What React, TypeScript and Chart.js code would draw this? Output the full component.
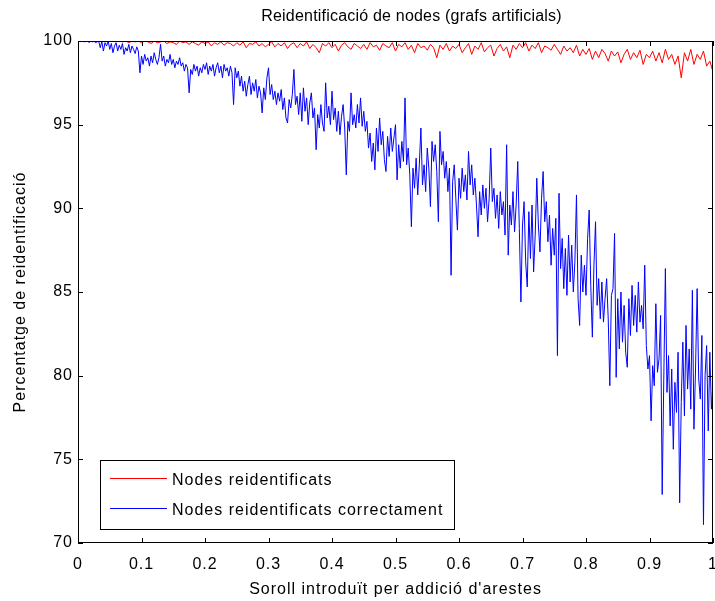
import React, { useEffect, useRef } from "react";
import { Chart, registerables } from "chart.js";

Chart.register(...registerables);

const titleText = "Reidentificació de nodes (grafs artificials)";
const xTitle = "Soroll introduït per addició d'arestes";
const yTitle = "Percentatge de reidentificació";
const seriesNames = ["Nodes reidentificats", "Nodes reidentificats correctament"];
const seriesColors = ["#ff0000", "#0000ff"];

const xTickLabels = ["0", "0.1", "0.2", "0.3", "0.4", "0.5", "0.6", "0.7", "0.8", "0.9", "1"];
const yTickLabels = ["70", "75", "80", "85", "90", "95", "100"];

// noise levels: red series sampled every 0.005, blue every 0.0025 (0 → 1)
const noiseLevelsRed: number[] = Array.from({ length: 201 }, (_, i) => i / 200);
const noiseLevelsBlue: number[] = Array.from({ length: 401 }, (_, i) => i / 400);

const reidentified: number[] = [
  100, 100, 100, 100, 100, 100, 100, 100, 100, 100,
  100, 100, 100, 100, 99.95, 100, 99.9, 100, 99.95, 100,
  99.9, 100, 99.95, 99.85, 100, 99.9, 99.95, 100, 99.85, 99.95,
  99.9, 99.8, 100, 99.9, 99.95, 99.8, 99.95, 99.85, 99.75, 99.95,
  99.85, 99.95, 99.7, 99.9, 99.8, 99.95, 99.75, 99.9, 99.85, 99.7,
  99.9, 99.75, 99.95, 99.6, 99.85, 99.8, 99.95, 99.7, 99.85, 99.65,
  99.8, 99.95, 99.65, 99.85, 99.7, 99.9, 99.55, 99.8, 99.9, 99.6,
  99.85, 99.7, 99.95, 99.55, 99.8, 99.6, 99.3, 99.85, 99.7, 99.9,
  99.6, 99.8, 99.4, 99.75, 99.9, 99.65, 99.5, 99.85, 99.7, 99.55,
  99.8, 99.5, 99.9, 99.65, 99.75, 99.45, 99.85, 99.7, 99.6, 99.9,
  99.4, 99.8, 99.65, 99.9, 99.5, 99.75, 99.3, 99.85, 99.6, 99.7,
  99.45, 99.8, 99.6, 99.0, 99.75, 99.5, 99.85, 99.4, 99.7, 99.55,
  99.8, 99.3, 99.6, 99.85, 99.2, 99.7, 99.5, 99.9, 99.35, 99.6,
  99.75, 99.1, 99.55, 99.8, 99.4, 99.65, 99.0, 99.75, 99.5, 99.85,
  99.6, 99.9, 99.4, 99.75, 99.55, 99.9, 99.3, 99.7, 99.6, 99.45,
  99.8, 99.5, 99.2, 99.7, 99.4, 99.6, 99.3, 99.75, 99.1, 99.5,
  99.2, 99.55, 98.9, 99.4, 99.0, 99.5, 99.25, 98.8, 99.4, 99.1,
  99.35, 98.7, 99.2, 99.5, 98.9, 99.3, 99.0, 99.45, 98.6, 99.2,
  99.0, 99.4, 98.8, 99.3, 98.7, 99.5, 98.9, 99.2, 98.6, 99.1,
  97.8, 99.3, 98.8, 99.5, 98.6, 99.2, 98.9, 99.4, 98.5, 98.8,
  98.15,
];

const reidentifiedCorrectly: number[] = [
  100, 100, 100, 100, 99.95, 100, 100, 99.9, 100, 99.95, 100, 99.9, 99.95, 100, 99.6, 99.95, 99.4, 99.9, 99.7, 100,
  99.5, 99.85, 99.3, 99.7, 99.9, 99.4, 99.75, 99.5, 99.85, 99.2, 99.6, 99.4, 99.8, 99.3, 99.7, 99.5, 99.25, 99.65, 99.4, 98.1,
  99.1, 98.6, 99.2, 98.8, 99.0, 98.5, 99.1, 98.7, 99.3, 98.9, 98.6, 99.0, 99.8, 98.8, 99.1, 98.5, 98.9, 98.7, 99.2, 98.6,
  98.9, 98.4, 98.8, 98.6, 99.0, 98.5, 98.7, 98.2, 98.6, 98.4, 96.9, 98.3, 98.0, 98.6, 98.2, 98.5, 97.9, 98.4, 98.1, 98.6,
  98.3, 98.7, 98.0, 98.5, 98.2, 98.6, 97.9, 98.4, 98.7, 98.1, 98.5, 97.8, 98.6, 98.2, 98.4, 97.9, 98.5, 98.1, 96.2, 98.4,
  97.8, 98.2, 97.3, 97.9, 97.0, 97.6, 96.7, 97.4, 97.9, 96.8, 97.5, 97.0, 97.7, 96.6, 97.3, 96.9, 95.7, 97.2, 96.5, 97.8,
  98.4, 96.8, 97.4, 96.5, 97.0, 96.2, 96.9, 96.4, 97.1, 95.9, 96.6, 95.4, 95.1, 96.5, 96.0, 96.8, 98.3, 96.2, 96.7, 95.6,
  96.9, 95.2, 97.2, 95.8, 96.6, 95.0, 96.3, 96.9, 95.4, 96.0, 93.5, 95.6, 94.8, 96.2, 95.1, 94.6, 97.5, 95.4, 96.1, 95.0,
  97.0, 95.3, 96.0, 94.6, 95.8, 94.4, 95.5, 96.2, 94.8, 92.0, 95.2, 94.6, 96.9, 95.0, 95.6, 94.8, 96.2, 95.1, 96.6, 94.9,
  95.8, 94.6, 95.2, 93.6, 94.5, 92.8, 93.9, 92.3, 94.8, 93.4, 95.4, 93.8, 94.6, 92.9, 92.2, 94.3, 93.1, 94.8, 93.4, 94.2,
  95.0, 91.7, 93.8, 92.4, 94.0, 92.8, 96.6, 92.6, 93.6, 92.0, 88.9, 92.4, 91.2, 93.0, 90.8, 92.6, 94.8, 91.4, 92.6, 91.0,
  93.6, 92.4, 90.1, 94.0, 92.8, 93.8, 92.2, 89.2, 94.6, 92.6, 93.4, 91.8, 92.8, 91.0, 92.4, 86.0, 91.6, 92.6, 90.6, 88.7,
  91.8, 90.6, 92.4, 91.0, 92.0, 90.5, 93.4, 91.4, 92.6, 90.8, 91.8, 90.2, 88.3, 91.0, 89.6, 91.4, 90.0, 91.2, 89.2, 90.6,
  93.6, 90.4, 91.2, 89.4, 90.8, 88.8, 91.0, 89.6, 90.4, 88.4, 93.8, 87.2, 90.2, 89.0, 91.0, 88.6, 90.2, 92.8, 88.8, 84.4,
  89.0, 90.4, 86.8, 85.3, 89.8, 87.0, 90.2, 86.2, 88.4, 91.8, 89.0, 87.4, 90.6, 92.2, 89.2, 90.4, 88.0, 89.6, 86.6, 88.8,
  87.2, 89.4, 81.2, 90.9, 86.4, 88.2, 85.2, 87.6, 84.8, 88.4, 85.6, 87.8, 85.0, 86.8, 90.8, 84.6, 83.0, 87.2, 85.0, 86.6,
  84.8, 88.2, 89.9, 85.4, 82.3, 86.6, 89.2, 84.2, 85.8, 83.4, 85.6, 83.2, 84.6, 85.8, 83.4, 79.4, 84.8, 85.2, 88.5, 79.9,
  84.6, 81.6, 85.0, 82.0, 84.2, 81.4, 80.5, 84.6, 82.4, 85.4, 83.0, 84.8, 82.6, 85.6, 83.2, 84.2, 82.8, 86.6, 81.8, 80.4,
  81.2, 77.3, 80.6, 79.4, 84.3, 80.2, 81.0, 83.6, 72.9, 79.8, 86.4, 79.0, 81.2, 77.0, 80.4, 75.6, 79.6, 77.8, 81.4, 72.4,
  78.4, 82.0, 77.6, 83.0, 79.2, 81.6, 78.0, 85.1, 76.8, 80.4, 85.2, 79.8, 78.6, 82.4, 71.1, 80.0, 81.8, 76.7, 81.4, 78.0,
  79.6,
];

const FONT = "'Liberation Sans', Arial, Helvetica, sans-serif";
const SPACING = "1px";

const matlabPlugin = {
  id: "matlabDecor",
  beforeInit(chart: any) {
    chart.ctx.letterSpacing = SPACING;
  },
  beforeDraw(chart: any) {
    chart.ctx.letterSpacing = SPACING;
  },
  afterDraw(chart: any) {
    const { ctx, chartArea, scales } = chart;
    const { left, right, top, bottom } = chartArea;
    const xs = scales.x;
    const ys = scales.y;
    ctx.save();
    // frame
    ctx.strokeStyle = "#000";
    ctx.lineWidth = 1;
    ctx.strokeRect(Math.round(left) + 0.5, Math.round(top) + 0.5, Math.round(right - left) - 1, Math.round(bottom - top) - 1);
    // inward ticks
    const tl = 5;
    ctx.beginPath();
    xs.ticks.forEach((t: any) => {
      const px = Math.round(xs.getPixelForValue(t.value)) + 0.5;
      ctx.moveTo(px, bottom);
      ctx.lineTo(px, bottom - tl);
      ctx.moveTo(px, top);
      ctx.lineTo(px, top + tl);
    });
    ys.ticks.forEach((t: any) => {
      const py = Math.round(ys.getPixelForValue(t.value)) + 0.5;
      ctx.moveTo(left, py);
      ctx.lineTo(left + tl, py);
      ctx.moveTo(right, py);
      ctx.lineTo(right - tl, py);
    });
    ctx.stroke();

    // title
    ctx.fillStyle = "#000";
    ctx.letterSpacing = "0.2px";
    ctx.font = `16px ${FONT}`;
    ctx.textAlign = "center";
    ctx.textBaseline = "middle";
    ctx.fillText(titleText, (left + right) / 2 + 16, 17);

    // legend box
    ctx.letterSpacing = SPACING;
    const bx = Math.round(left) + 22;
    const by = Math.round(bottom) - 83;
    const bw = 354;
    const bh = 69;
    ctx.fillStyle = "#fff";
    ctx.fillRect(bx, by, bw, bh);
    ctx.strokeStyle = "#000";
    ctx.strokeRect(bx + 0.5, by + 0.5, bw, bh);
    const rows = [by + 20, by + 50];
    ctx.font = `16px ${FONT}`;
    ctx.textAlign = "left";
    ctx.textBaseline = "middle";
    seriesNames.forEach((name, i) => {
      ctx.strokeStyle = seriesColors[i];
      ctx.beginPath();
      ctx.moveTo(bx + 10, rows[i] - 1.5);
      ctx.lineTo(bx + 67, rows[i] - 1.5);
      ctx.stroke();
      ctx.fillStyle = "#000";
      ctx.fillText(name, bx + 72, rows[i] + 1);
    });
    ctx.restore();
  },
};

export default function App() {
  const ref = useRef<HTMLCanvasElement | null>(null);
  useEffect(() => {
    document.body.style.margin = "0";
    const canvas = ref.current;
    if (!canvas) return;
    const chart = new Chart(canvas, {
      type: "line",
      data: {
        datasets: [
          {
            label: seriesNames[0],
            data: noiseLevelsRed.map((x, i) => ({ x, y: reidentified[i] })),
            borderColor: seriesColors[0],
            backgroundColor: seriesColors[0],
            borderWidth: 1,
            pointRadius: 0,
            tension: 0,
            order: 1,
          },
          {
            label: seriesNames[1],
            data: noiseLevelsBlue.map((x, i) => ({ x, y: reidentifiedCorrectly[i] })),
            borderColor: seriesColors[1],
            backgroundColor: seriesColors[1],
            borderWidth: 1,
            pointRadius: 0,
            tension: 0,
            order: 0,
          },
        ],
      },
      options: {
        animation: false,
        responsive: false,
        devicePixelRatio: 1,
        layout: { padding: { top: 41, left: 0, right: 2, bottom: 0 }, autoPadding: false },
        plugins: { legend: { display: false }, tooltip: { enabled: false }, title: { display: false } },
        scales: {
          x: {
            type: "linear",
            min: 0,
            max: 1,
            grid: { display: false, drawTicks: false },
            border: { display: false },
            ticks: {
              stepSize: 0.1,
              color: "#000",
              padding: 12,
              maxRotation: 0,
              font: { family: FONT, size: 16 },
              callback: (_v: any, i: number) => xTickLabels[i],
            },
            title: { display: true, text: xTitle, color: "#000", font: { family: FONT, size: 16 }, padding: { top: 0, bottom: 2 } },
            afterFit: (s: any) => { s.height = 58; s.paddingLeft = 0; s.paddingRight = 0; },
          },
          y: {
            type: "linear",
            min: 70,
            max: 100,
            grid: { display: false, drawTicks: false },
            border: { display: false },
            ticks: {
              stepSize: 5,
              color: "#000",
              padding: 5,
              font: { family: FONT, size: 16 },
              callback: (_v: any, i: number) => yTickLabels[i],
            },
            title: { display: true, text: yTitle, color: "#000", font: { family: FONT, size: 16 }, padding: { top: 11, bottom: 0 } },
            afterFit: (s: any) => { s.width = 78; s.paddingTop = 0; s.paddingBottom = 0; },
          },
        },
      },
      plugins: [matlabPlugin],
    });
    return () => chart.destroy();
  }, []);
  return (
    <div style={{ width: 715, height: 601, background: "#fff" }}>
      <canvas ref={ref} width={715} height={601} style={{ display: "block" }} />
    </div>
  );
}
